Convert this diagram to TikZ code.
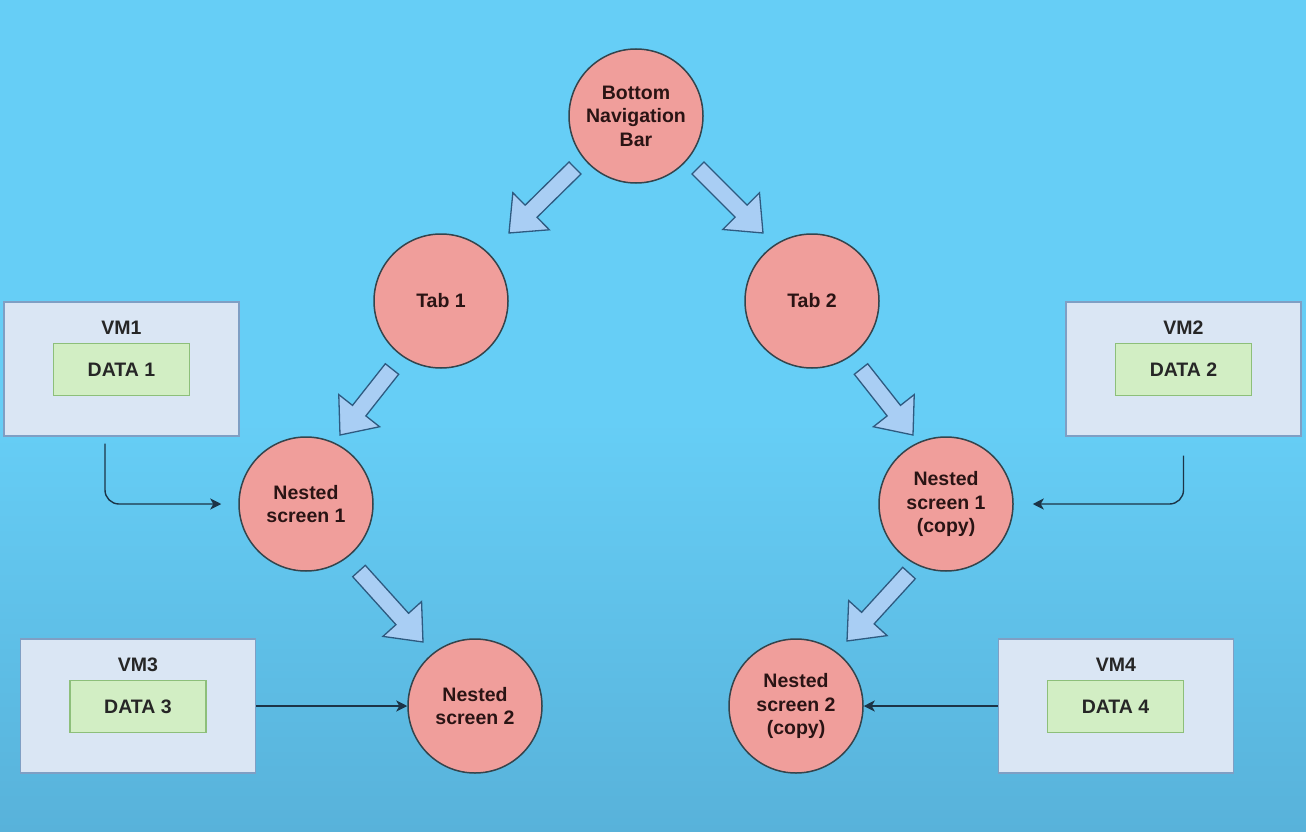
\documentclass[tikz,border=0pt]{standalone}
\usepackage{fontspec}
\setmainfont{Liberation Sans}
\usetikzlibrary{calc,arrows.meta}
\definecolor{bgtop}{HTML}{66CEF6}
\definecolor{bgbot}{HTML}{58B2DA}
\definecolor{circfill}{HTML}{F09E9B}
\definecolor{circline}{HTML}{34444C}
\definecolor{circtext}{HTML}{2A1414}
\definecolor{vmfill}{HTML}{DAE6F4}
\definecolor{vmline}{HTML}{7F9FC4}
\definecolor{datafill}{HTML}{D2EEC4}
\definecolor{dataline}{HTML}{8DBF7A}
\definecolor{barfill}{HTML}{A9CEF4}
\definecolor{barline}{HTML}{2E5A80}
\definecolor{connline}{HTML}{1C3447}
\newcommand\blkarrow[2]{%
  \coordinate (tmpB) at ($(#2)!31pt!(#1)$);
  \filldraw[blockarr] ($(#1)!8.5pt!90:(#2)$) -- ($(tmpB)!8.5pt!90:(#2)$) -- ($(tmpB)!26pt!90:(#2)$) -- (#2)
     -- ($(tmpB)!26pt!-90:(#2)$) -- ($(tmpB)!8.5pt!-90:(#2)$) -- ($(#1)!8.5pt!-90:(#2)$) -- cycle;}
\begin{document}
\begin{tikzpicture}[x=1pt,y=-1pt,
  txt/.style={font=\fontsize{19.5}{23.5}\selectfont\bfseries},
  circ/.style={txt, circle, draw=circline, line width=1.5pt, fill=circfill, text=circtext,
    minimum size=134pt, inner sep=0pt, align=center},
  vmbox/.style={draw=vmline, fill=vmfill, line width=1.2pt, minimum width=235pt, minimum height=134pt, inner sep=0pt},
  databox/.style={txt, draw=dataline, fill=datafill, line width=1.2pt, minimum width=136pt, minimum height=52pt, inner sep=0pt, text=black!85},
  vmlabel/.style={txt, text=black!85, inner sep=0pt},
  blockarr/.style={fill=barfill, draw=barline, line width=1.3pt, line join=miter},
  conn/.style={draw=connline, line width=1.4pt, -{Stealth[length=11pt,width=11pt,inset=3pt]}}
]
\useasboundingbox (0,0) rectangle (1306,832);
\fill[bgtop] (0,0) rectangle (1306,832);
\shade[top color=bgtop, bottom color=bgbot] (0,420) rectangle (1306,832);

% circles
\node[circ] (bnb) at (636,116) {Bottom\\Navigation\\Bar};
\node[circ] (tab1) at (441,301) {Tab 1};
\node[circ] (tab2) at (812,301) {Tab 2};
\node[circ] (ns1) at (306,504) {Nested\\screen 1};
\node[circ] (ns1c) at (946,504) {Nested\\screen 1\\(copy)};
\node[circ] (ns2) at (475,706) {Nested\\screen 2};
\node[circ] (ns2c) at (796,706) {Nested\\screen 2\\(copy)};

% VM boxes
\node[vmbox] (vm1) at (121.5,369) {};
\node[vmlabel] (vm1l) at (121.5,328) {VM1};
\node[databox] (d1) at (121.5,369.5) {DATA 1};

\node[vmbox] (vm2) at (1183.5,369) {};
\node[vmlabel] (vm2l) at (1183.5,328) {VM2};
\node[databox] (d2) at (1183.5,369.5) {DATA 2};

\node[vmbox] (vm3) at (138,706) {};
\node[vmlabel] (vm3l) at (138,665) {VM3};
\node[databox] (d3) at (138,706.5) {DATA 3};

\node[vmbox] (vm4) at (1116,706) {};
\node[vmlabel] (vm4l) at (1116,665) {VM4};
\node[databox] (d4) at (1115.5,706.5) {DATA 4};

% thin connectors
\draw[conn, rounded corners=14pt] ([xshift=-16.5pt,yshift=-7pt]vm1.south) |- ([xshift=-17pt]ns1.west);
\draw[conn, rounded corners=14pt] ([yshift=-19pt]vm2.south) |- ([xshift=19pt]ns1c.east);
\draw[conn] (vm3.east) -- (ns2.west);
\draw[conn] (vm4.west) -- (ns2c.east);

% block arrows
\coordinate (a1t) at (575,168); \coordinate (a1h) at (509,233);
\coordinate (a2t) at (698,168); \coordinate (a2h) at (763,233);
\coordinate (a3t) at (392,369); \coordinate (a3h) at (340,435);
\coordinate (a4t) at (861,369); \coordinate (a4h) at (913,435);
\coordinate (a5t) at (359,571); \coordinate (a5h) at (423,642);
\coordinate (a6t) at (909,573); \coordinate (a6h) at (847,641);
\blkarrow{a1t}{a1h}
\blkarrow{a2t}{a2h}
\blkarrow{a3t}{a3h}
\blkarrow{a4t}{a4h}
\blkarrow{a5t}{a5h}
\blkarrow{a6t}{a6h}
\end{tikzpicture}
\end{document}
